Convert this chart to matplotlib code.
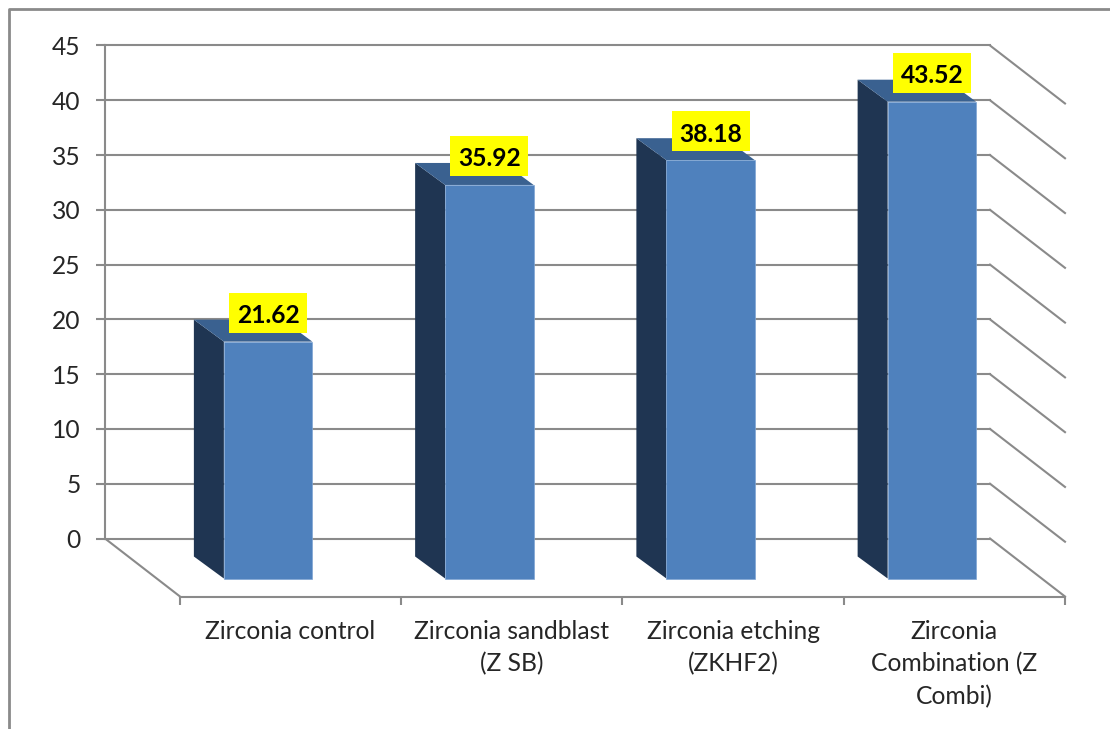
import matplotlib
matplotlib.use('Agg')
import matplotlib.pyplot as plt
from matplotlib.patches import Rectangle

categories = ['Zirconia control', 'Zirconia sandblast\n(Z SB)', 'Zirconia etching\n(ZKHF2)',
              'Zirconia\nCombination (Z\nCombi)']
values = [21.62, 35.92, 38.18, 43.52]
y_ticks = [0, 5, 10, 15, 20, 25, 30, 35, 40, 45]

W, H = 1110, 729
PX_X = 221.25   # pixels per category
PX_Y = 10.956   # pixels per value unit
X0, Y0 = 180, 538.5   # front-left corner x, back wall zero y

GRAY = '#8a8a8a'
FACE = '#4f81bd'
SIDE = '#1f3552'
TOP = '#3a6190'

# fake 3D offsets, in data units
wall_dx, wall_dy = -75 / PX_X, 58 / PX_Y
face_dx, face_dy = -22.5 / PX_X, 40 / PX_Y
depth_x, depth_y = -30 / PX_X, 22 / PX_Y
bar_w = 0.4
box_w, box_h = 78 / PX_X, 40 / PX_Y

plt.rcParams['font.family'] = ['Lato', 'DejaVu Sans']

fig = plt.figure(figsize=(W / 100, H / 100), dpi=100)
ax = fig.add_axes([0, 0, 1, 1])
ax.set_xlim(-X0 / PX_X, (W - X0) / PX_X)
ax.set_ylim((Y0 - H) / PX_Y, Y0 / PX_Y)
ax.patch.set_visible(False)

# outer chart frame
ax.plot([8.5 / W, 8.5 / W, 1], [0, 1 - 8.5 / H, 1 - 8.5 / H], transform=ax.transAxes,
        color=GRAY, lw=2, solid_capstyle='butt', zorder=1)

# axes: value axis on the back wall, category axis on the front of the floor
for side in ['top', 'right']:
    ax.spines[side].set_visible(False)
ax.spines['left'].set_position(('data', wall_dx))
ax.spines['left'].set_bounds(0, 45)
ax.spines['bottom'].set_position(('data', -wall_dy))
ax.spines['bottom'].set_bounds(0, 4)
for side in ['left', 'bottom']:
    ax.spines[side].set_color(GRAY)
    ax.spines[side].set_linewidth(1.5)

ax.set_yticks(y_ticks)
ax.tick_params(axis='y', length=6.5, width=1.5, color=GRAY, pad=11, labelsize=17.7, labelcolor='#262626')
ax.set_xticks(range(5))
ax.set_xticklabels([])
ax.set_xticks([i + 0.5 for i in range(4)], categories, minor=True)
ax.tick_params(axis='x', which='major', length=5.5, width=1.5, color=GRAY)
ax.tick_params(axis='x', which='minor', length=0, pad=17, labelsize=17.7, labelcolor='#262626')
for lab in ax.get_xticklabels(minor=True):
    lab.set_linespacing(1.47)

# gridlines on the back wall and their continuation down the side wall
for v in y_ticks:
    ax.plot([wall_dx, 4 + wall_dx], [v, v], color=GRAY, lw=1.5, zorder=2)
    ax.plot([4 + wall_dx, 4], [v, v - wall_dy], color=GRAY, lw=1.5, zorder=2)
ax.plot([wall_dx, 0], [0, -wall_dy], color=GRAY, lw=1.5, zorder=2)

# bars: front face from ax.bar, side and top as polygons
centers = [i + 0.5 + face_dx for i in range(4)]
ax.bar(centers, values, width=bar_w, bottom=-face_dy, color=FACE, edgecolor='#7fa5d3', linewidth=0.5, zorder=4)
for c, v in zip(centers, values):
    left = c - bar_w / 2
    right = c + bar_w / 2
    top = v - face_dy
    ax.fill([left, left + depth_x, left + depth_x, left],
            [-face_dy, -face_dy + depth_y, top + depth_y, top], color=SIDE, lw=0, zorder=3)
    ax.fill([left, left + depth_x, right + depth_x, right],
            [top, top + depth_y, top + depth_y, top], color=TOP, lw=0, zorder=3)
    # value label on a yellow box
    label_y = top + 29 / PX_Y
    ax.add_patch(Rectangle((c - box_w / 2, label_y - box_h / 2), box_w, box_h,
                           facecolor='#ffff00', edgecolor='none', zorder=5))
    ax.text(c, label_y - 3 / PX_Y, f'{v:.2f}', ha='center', va='center', fontsize=17.7, fontweight='bold',
            color='black', zorder=6)

fig.savefig('out.png', dpi=100)
